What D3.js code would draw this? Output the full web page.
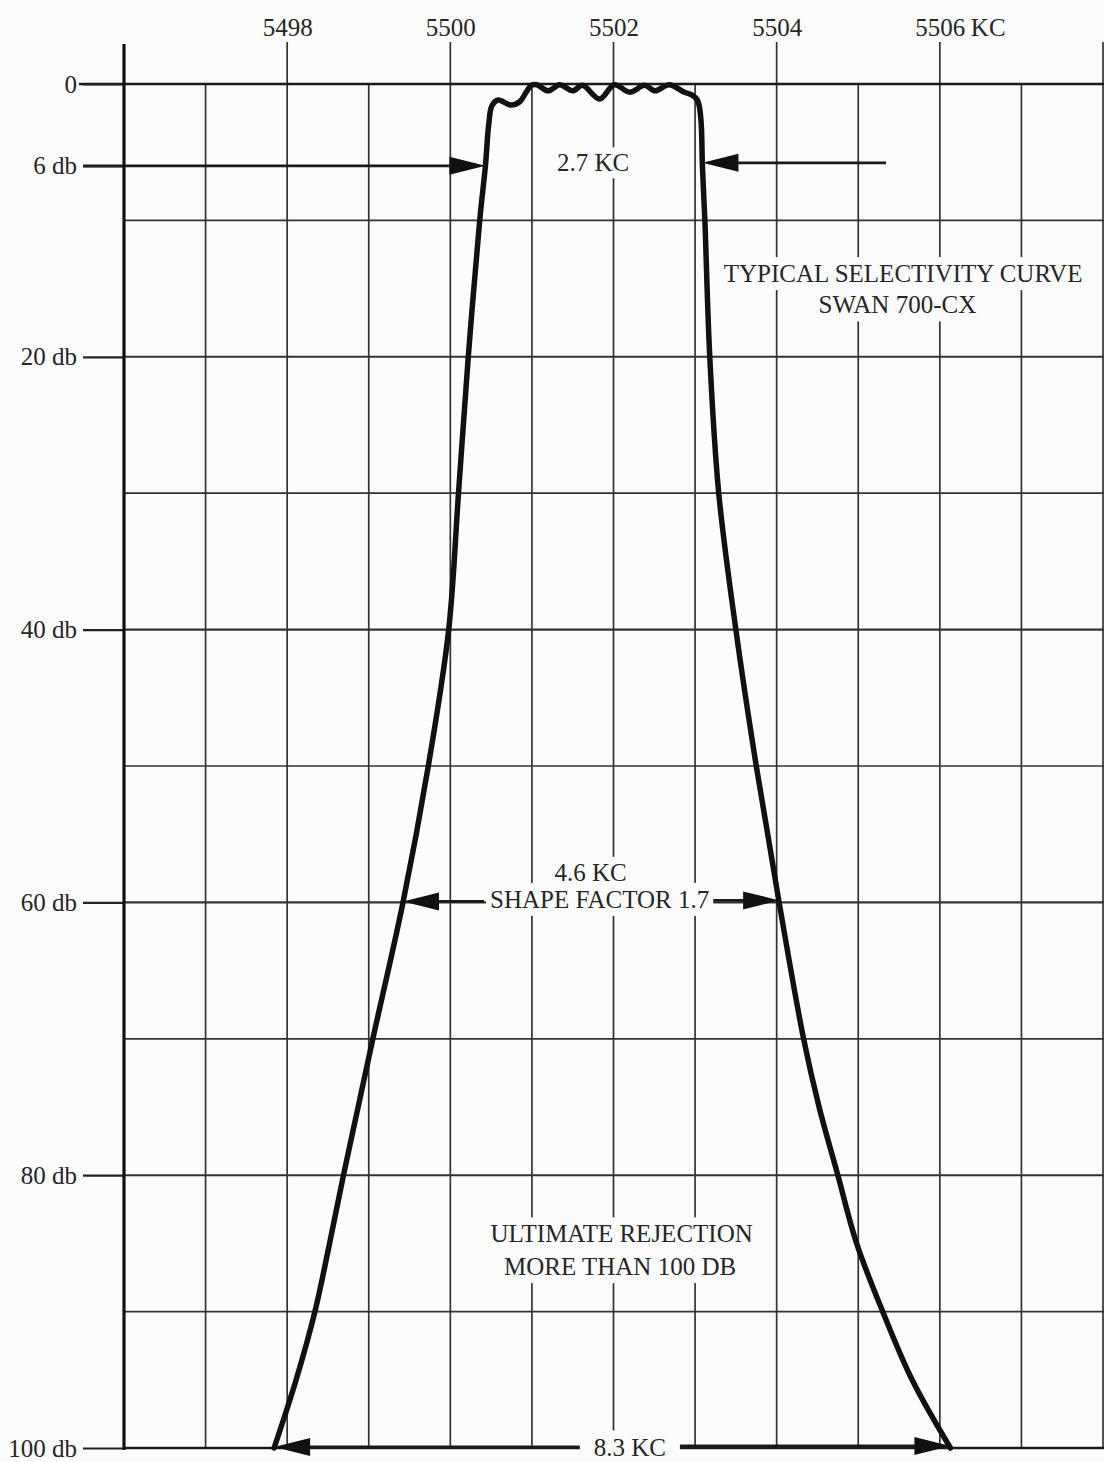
<!DOCTYPE html>
<html>
  <head>
    <meta charset="utf-8">
    <title>Swan 700-CX selectivity curve</title>
    <style>
      body { margin: 0; background: #fcfcfc; }
      svg { display: block; background: #fcfcfc; }
      .grid line { stroke: #333; stroke-width: 1.7px; }
      .txt { font-family: "Liberation Serif", "Times New Roman", serif; font-size: 25px; fill: #262626; }
      .curve { fill: none; stroke: #111; stroke-width: 5.5px; stroke-linejoin: round; stroke-linecap: round; }
    </style>
    <script src="https://cdn.jsdelivr.net/npm/d3@7"></script>
  </head>
  <body>
  <script type="text/javascript">
    var width = 1104;
    var height = 1462;

    // frequency axis (KC)
    var freqTicks = [5498, 5500, 5502, 5504, 5506];
    var freqLabels = ["5498", "5500", "5502", "5504", "5506"];
    var gridFreqs = [5497, 5498, 5499, 5500, 5501, 5502, 5503, 5504, 5505, 5506, 5507, 5508];

    // attenuation axis (db)
    var dbTicks = [0, 6, 20, 40, 60, 80, 100];
    var dbLabels = ["0", "6 db", "20 db", "40 db", "60 db", "80 db", "100 db"];
    var dbGrid = [10, 20, 30, 40, 50, 60, 70, 80, 90];

    // selectivity curve
    var curveKc = [5497.84, 5498.11, 5498.34, 5498.52, 5498.69, 5498.87, 5499.05, 5499.42, 5499.73, 5499.98,
                   5500.10, 5500.22, 5500.36, 5500.43, 5500.47, 5500.51, 5500.585, 5500.74, 5500.85, 5500.93,
                   5500.99, 5501.06, 5501.20, 5501.34, 5501.50, 5501.62, 5501.83, 5502.01, 5502.20, 5502.38,
                   5502.51, 5502.68, 5502.87, 5502.96, 5503.03, 5503.07, 5503.09, 5503.12, 5503.18, 5503.29,
                   5503.50, 5503.75, 5504.03, 5504.33, 5504.52, 5504.75, 5504.98, 5505.30, 5505.66, 5506.13];
    var curveDb = [100, 95, 90, 85, 80, 75, 70, 60, 50, 40,
                   30, 20, 10, 6, 3, 1.6, 1.17, 1.54, 1.3, 0.6,
                   0.1, 0.05, 0.5, 0.05, 0.5, 0.1, 1.1, 0.05, 0.6, 0.1,
                   0.5, 0.05, 0.6, 0.8, 1.2, 2.5, 6, 10, 20, 30,
                   40, 50, 60, 70, 75, 80, 85, 90, 95, 100];

    // bandwidth markers
    var bwDb = [6, 60, 100];
    var bwLow = [5500.43, 5499.42, 5497.84];
    var bwHigh = [5503.09, 5504.03, 5506.13];
    var bwText = ["2.7 KC", "SHAPE FACTOR 1.7", "8.3 KC"];
    var bwTextKc = [5501.75, 5501.83, 5502.2];

    var svg = d3.select("body")
                .append("svg")
                .attr("width", width)
                .attr("height", height);

    var x = d3.scaleLinear().domain([5496, 5508]).range([124, 1103]);
    var y = d3.scaleLinear().domain([0, 100]).range([84, 1448]);

    var gridG = svg.append("g").attr("class", "grid");
    var bgG = svg.append("g");
    var curveG = svg.append("g");
    var arrowG = svg.append("g");
    var textG = svg.append("g");

    // vertical grid lines, labelled ones run up to the labels
    gridG.selectAll(".vl")
      .data(gridFreqs)
      .enter()
      .append("line")
        .attr("x1", function(d){ return x(d); })
        .attr("x2", function(d){ return x(d); })
        .attr("y1", function(d){ return (freqTicks.indexOf(d) >= 0 || d == 5508) ? 42 : y(0); })
        .attr("y2", y(100));

    // horizontal grid lines
    gridG.selectAll(".hl")
      .data(dbGrid)
      .enter()
      .append("line")
        .attr("x1", x(5496))
        .attr("x2", width)
        .attr("y1", function(d){ return y(d); })
        .attr("y2", function(d){ return y(d); })
        .style("stroke-width", function(d){ return d % 20 == 0 ? "2.1px" : "1.7px"; });

    // 0 and 100 db lines
    gridG.append("line")
      .attr("x1", 79).attr("x2", width)
      .attr("y1", y(0)).attr("y2", y(0))
      .style("stroke", "#1a1a1a").style("stroke-width", "2.4px");
    gridG.append("line")
      .attr("x1", x(5496)).attr("x2", width)
      .attr("y1", y(100)).attr("y2", y(100))
      .style("stroke", "#1a1a1a").style("stroke-width", "2.6px");

    // left axis with labels
    var yAxis = d3.axisLeft(y)
      .tickValues(dbTicks)
      .tickSize(x(5496) - 83)
      .tickPadding(6)
      .tickFormat(function(d, i){ return dbLabels[i]; });
    var yg = svg.append("g")
      .attr("transform", "translate(" + x(5496) + ",0)")
      .call(yAxis);
    yg.attr("font-size", null).attr("font-family", null);
    yg.select(".domain").remove();
    yg.selectAll(".tick line").style("stroke", "#222").style("stroke-width", "2.2px");
    yg.selectAll(".tick text").attr("class", "txt");

    // top labels
    var xAxis = d3.axisTop(x)
      .tickValues(freqTicks)
      .tickSize(0)
      .tickPadding(8)
      .tickFormat(function(d, i){ return freqLabels[i]; });
    var xg = svg.append("g")
      .attr("transform", "translate(0,44)")
      .call(xAxis);
    xg.attr("font-size", null).attr("font-family", null);
    xg.select(".domain").remove();
    xg.selectAll(".tick text").attr("class", "txt");
    // unit after the last frequency
    xg.append("text")
      .attr("class", "txt")
      .attr("text-anchor", "start")
      .attr("x", x(5506) + 31)
      .attr("y", -8)
      .text("KC");

    // main vertical axis
    svg.append("line")
      .attr("x1", x(5496)).attr("x2", x(5496))
      .attr("y1", 44).attr("y2", y(100) + 2)
      .style("stroke", "#111").style("stroke-width", "3.2px");

    // text with a white patch behind it
    function label(txt, cx, cy, padX, padY) {
      var t = textG.append("text")
        .attr("class", "txt")
        .attr("x", cx)
        .attr("y", cy)
        .attr("text-anchor", "middle")
        .attr("dominant-baseline", "central")
        .text(txt);
      var b = t.node().getBBox();
      bgG.append("rect")
        .attr("x", b.x - padX).attr("y", b.y - padY)
        .attr("width", b.width + 2 * padX).attr("height", b.height + 2 * padY)
        .style("fill", "#fcfcfc");
      return b;
    }

    function arrow(x0, x1, yy) {
      var dir = x1 > x0 ? 1 : -1;
      arrowG.append("line")
        .attr("x1", x0).attr("x2", x1 - dir * 10)
        .attr("y1", yy).attr("y2", yy)
        .style("stroke", "#1a1a1a").style("stroke-width", "2.8px");
      arrowG.append("path")
        .attr("d", "M" + x1 + "," + yy + "L" + (x1 - dir * 36) + "," + (yy - 9) + "L" + (x1 - dir * 36) + "," + (yy + 9) + "Z")
        .style("fill", "#111");
    }

    // curve
    var line = d3.line()
      .x(function(d){ return x(d[0]); })
      .y(function(d){ return y(d[1]); })
      .curve(d3.curveCatmullRom.alpha(0.5));
    curveG.append("path")
      .datum(d3.zip(curveKc, curveDb))
      .attr("class", "curve")
      .attr("d", line);

    // 6 db markers
    label(bwText[0], x(bwTextKc[0]), y(bwDb[0]) - 3, 3, 2);
    arrow(83, x(bwLow[0]), y(bwDb[0]));
    arrow(x(5505.34), x(bwHigh[0]), y(bwDb[0]) - 3);

    // 60 db markers
    var b60 = label(bwText[1], x(bwTextKc[1]), y(bwDb[1]) - 3, 4, 3);
    label("4.6 KC", x(5501.72), y(57.8), 4, 2);
    arrow(b60.x - 6, x(bwLow[1]), y(bwDb[1]) - 1);
    arrow(b60.x + b60.width + 4, x(bwHigh[1]), y(bwDb[1]) - 2);

    // 100 db markers
    var b100 = label(bwText[2], x(bwTextKc[2]), y(bwDb[2]) - 1, 14, 3);
    arrow(b100.x - 14, x(bwLow[2]), y(bwDb[2]) - 1);
    arrow(b100.x + b100.width + 14, x(bwHigh[2]), y(bwDb[2]) - 2);

    // notes
    label("TYPICAL SELECTIVITY CURVE", x(5505.55), y(13.9), 3, 3);
    label("SWAN 700-CX", x(5505.48), y(16.2), 3, 3);
    label("ULTIMATE REJECTION", x(5502.1), y(84.3), 3, 3);
    label("MORE THAN 100 DB", x(5502.08), y(86.7), 3, 3);
  </script>
  </body>
</html>
